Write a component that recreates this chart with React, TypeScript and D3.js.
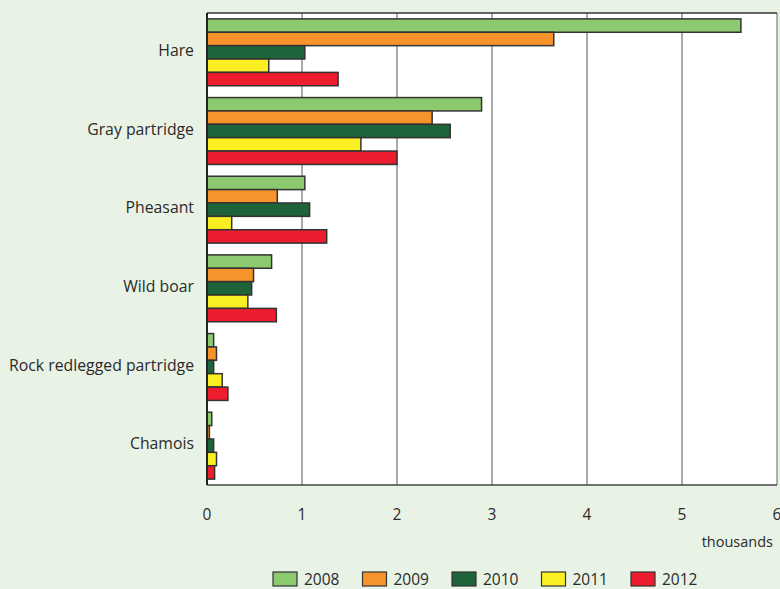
import React from 'react';
import * as d3 from 'd3';

const categories = ['Hare', 'Gray partridge', 'Pheasant', 'Wild boar', 'Rock redlegged partridge', 'Chamois'];
const years = ['2008', '2009', '2010', '2011', '2012'];
const colors = ['#8dc96f', '#f7932b', '#1e6339', '#f9ef23', '#ed1c2e'];

const values2008 = [5.62, 2.89, 1.03, 0.68, 0.07, 0.05];
const values2009 = [3.65, 2.37, 0.74, 0.49, 0.1, 0.025];
const values2010 = [1.03, 2.56, 1.08, 0.47, 0.07, 0.07];
const values2011 = [0.65, 1.62, 0.26, 0.43, 0.16, 0.1];
const values2012 = [1.38, 2.0, 1.26, 0.73, 0.22, 0.08];
const series = [values2008, values2009, values2010, values2011, values2012];
const xTicks = [0, 1, 2, 3, 4, 5, 6];

const W = 780;
const H = 589;
const margin = { top: 13, right: 3, bottom: 104, left: 207 };
const font = '"Open Sans", Lato, sans-serif';

const App: React.FC = () => {
  const innerW = W - margin.left - margin.right;
  const innerH = H - margin.top - margin.bottom;

  const x = d3.scaleLinear().domain([0, 6]).range([0, innerW]);
  const y0 = d3.scaleBand().domain(categories).range([0, innerH]).paddingInner(0.15).paddingOuter(0.075);
  const y1 = d3.scaleBand().domain(years).range([0, y0.bandwidth()]);

  return (
    <svg width={W} height={H} style={{ position: 'absolute', left: 0, top: 0, background: '#e8f3e6' }}>
      <rect width={W} height={H} fill="#e8f3e6" />
      <g transform={`translate(${margin.left},${margin.top})`}>
        <rect width={innerW} height={innerH} fill="#fff" />
        {xTicks.slice(1, -1).map((t) => (
          <line key={t} x1={x(t)} x2={x(t)} y1={0} y2={innerH} stroke="#555" strokeWidth={1} />
        ))}
        <line x1={innerW} x2={innerW} y1={0} y2={innerH} stroke="#666" strokeWidth={1} />
        <line x1={0} x2={innerW} y1={0} y2={0} stroke="#333" strokeWidth={1.5} />
        <line x1={0} x2={innerW} y1={innerH} y2={innerH} stroke="#444" strokeWidth={1.5} />
        {categories.map((c, ci) => (
          <g key={c} transform={`translate(0,${y0(c)})`}>
            {series.map((s, si) => (
              <rect
                key={si}
                x={0}
                y={y1(years[si])}
                width={x(s[ci])}
                height={y1.bandwidth()}
                fill={colors[si]}
                stroke="#333"
                strokeWidth={1.5}
              />
            ))}
            <text
              x={-13}
              y={y0.bandwidth() / 2 - 2}
              dy="0.35em"
              textAnchor="end"
              fontFamily={font}
              fontSize={15.8}
              fill="#2a2a2a"
            >
              {c}
            </text>
          </g>
        ))}
        <line x1={0} x2={0} y1={0} y2={innerH} stroke="#222" strokeWidth={2} />
        {xTicks.map((t) => (
          <text key={t} x={x(t)} y={innerH + 35} textAnchor="middle" fontFamily={font} fontSize={15.5} fill="#2a2a2a">
            {t}
          </text>
        ))}
        <text x={innerW - 4} y={innerH + 62} textAnchor="end" fontFamily={font} fontSize={14.5} fill="#2a2a2a">
          thousands
        </text>
      </g>
      {years.map((yr, i) => (
        <g key={yr} transform={`translate(${273 + i * 89.5},572)`}>
          <rect width={24} height={14} fill={colors[i]} stroke="#333" strokeWidth={1.2} />
          <text x={31} y={13} fontFamily={font} fontSize={15.5} fill="#2a2a2a">
            {yr}
          </text>
        </g>
      ))}
    </svg>
  );
};

export default App;
